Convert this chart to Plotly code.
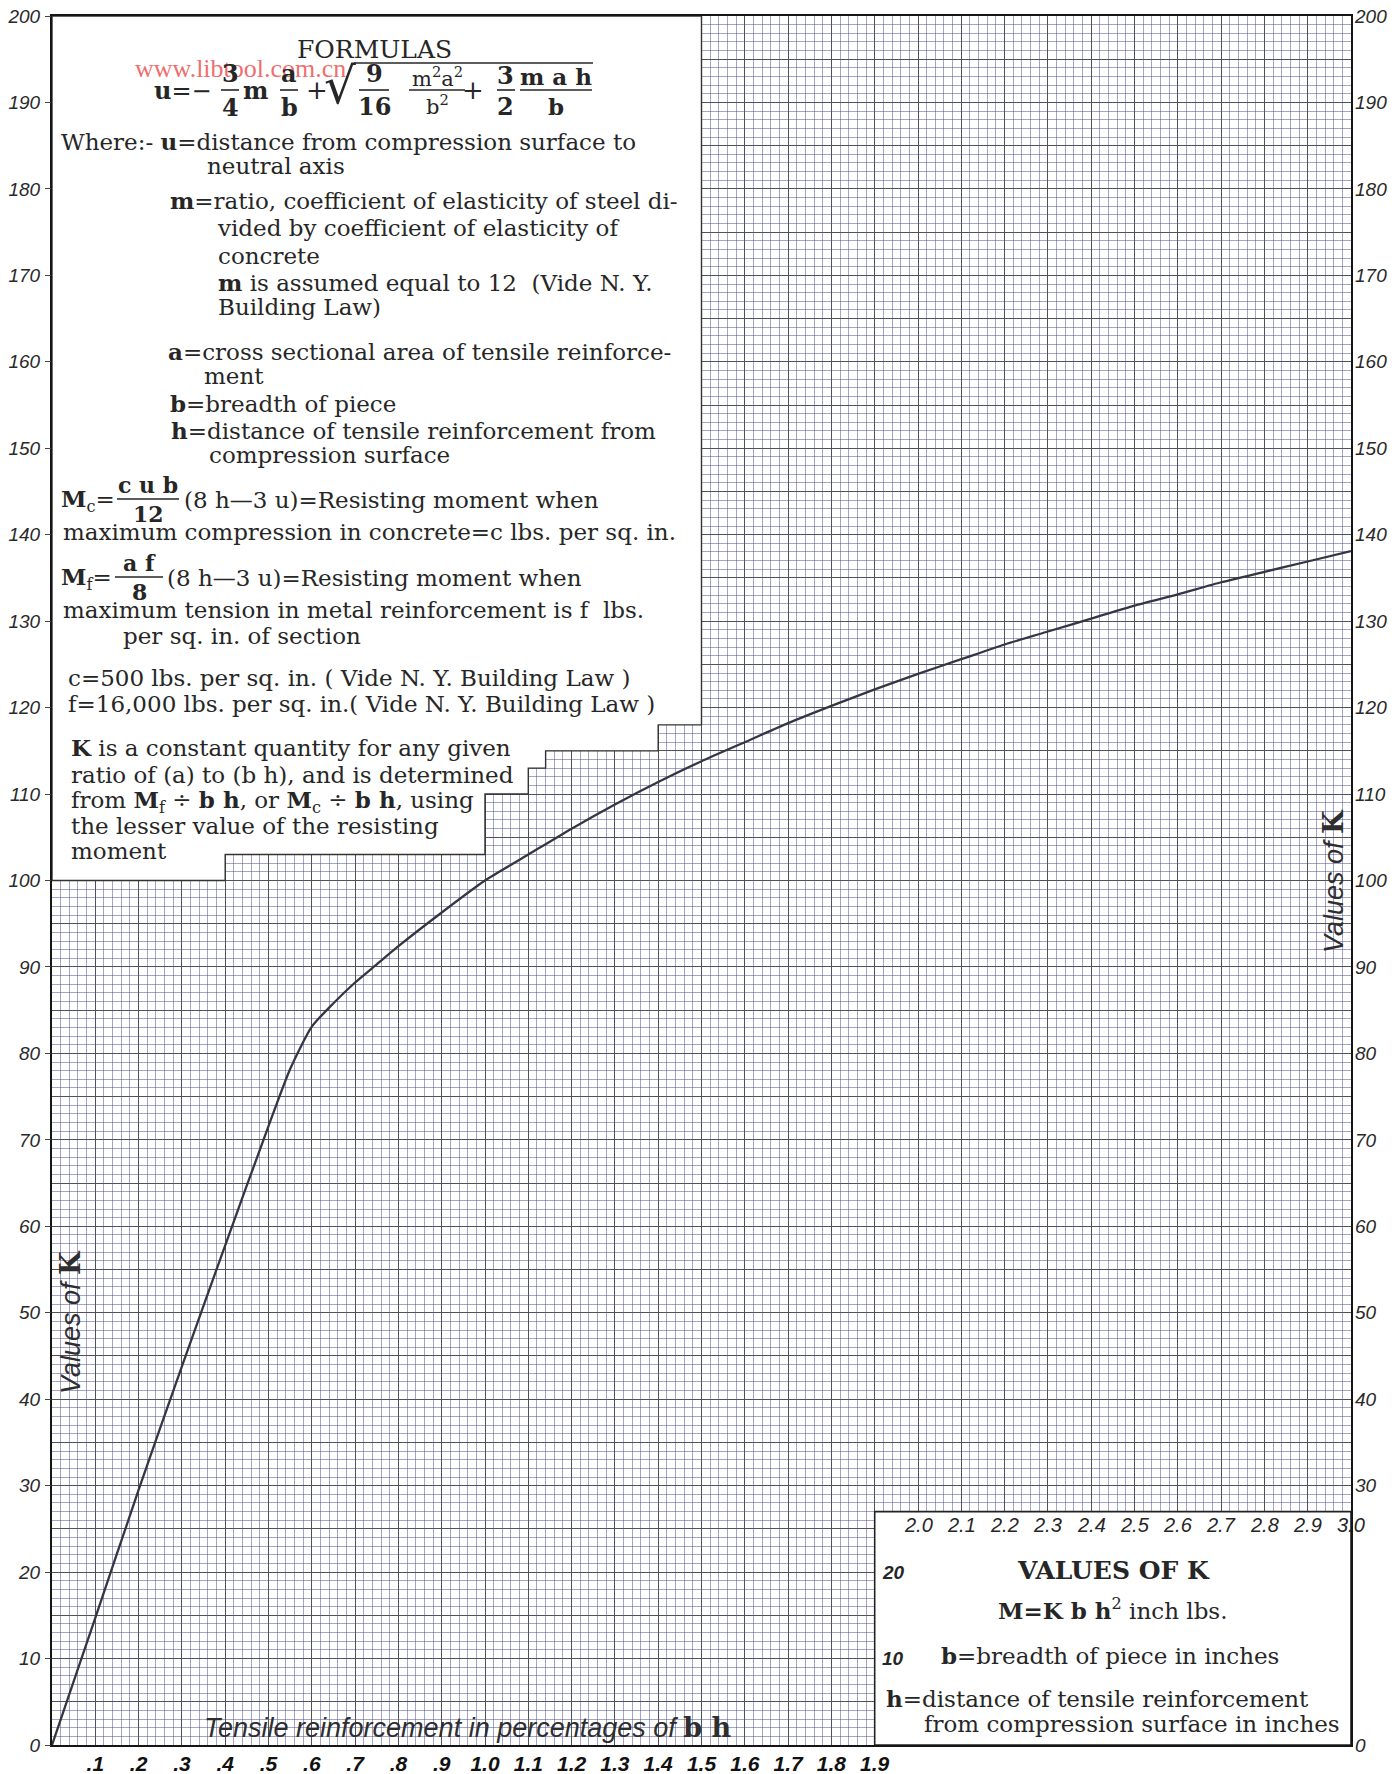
import plotly.graph_objects as go

# ---- data -------------------------------------------------------------
# Tensile reinforcement in percentages of b h, and the value of K
reinforcement_pct = [0.0, 0.1, 0.2, 0.3, 0.4, 0.5, 0.55, 0.6, 0.65, 0.7, 0.75, 0.8, 0.9,
                     1.0, 1.1, 1.2, 1.3, 1.4, 1.5, 1.6, 1.7, 1.8, 1.9,
                     2.0, 2.1, 2.2, 2.3, 2.4, 2.5, 2.6, 2.7, 2.8, 2.9, 3.0]
k_values = [0.0, 14.7, 29.5, 43.8, 57.8, 71.6, 78.2, 83.1, 85.8, 88.2, 90.3, 92.4, 96.3,
            100.0, 103.0, 106.0, 108.8, 111.4, 113.8, 116.0, 118.2, 120.2, 122.1,
            123.9, 125.6, 127.3, 128.8, 130.3, 131.8, 133.1, 134.5, 135.7, 136.9, 138.1]

# tick labels
left_k_ticks = list(range(0, 201, 10))
left_k_text = [str(v) for v in left_k_ticks]
right_k_ticks = [0] + list(range(30, 201, 10))
right_k_text = [str(v) for v in right_k_ticks]
box_k_ticks = [10, 20]
box_k_text = ["10", "20"]
bottom_x_ticks = [0.1, 0.2, 0.3, 0.4, 0.5, 0.6, 0.7, 0.8, 0.9, 1.0,
                  1.1, 1.2, 1.3, 1.4, 1.5, 1.6, 1.7, 1.8, 1.9]
bottom_x_text = [".1", ".2", ".3", ".4", ".5", ".6", ".7", ".8", ".9", "1.0",
                 "1.1", "1.2", "1.3", "1.4", "1.5", "1.6", "1.7", "1.8", "1.9"]
box_x_ticks = [2.0, 2.1, 2.2, 2.3, 2.4, 2.5, 2.6, 2.7, 2.8, 2.9, 3.0]
box_x_text = ["2.0", "2.1", "2.2", "2.3", "2.4", "2.5", "2.6", "2.7", "2.8", "2.9", "3.0"]

# ---- page geometry / styles ------------------------------------------
FIG_W, FIG_H = 1397, 1774
L, T, W, H = 52, 16, 1299, 1729
SERIF = "DejaVu Serif"
SANS = "Liberation Sans"
INK = "#262626"
MAJOR = "#51515b"
MINOR = "rgba(90,90,155,0.55)"
BODY = 23

annotations = []
shapes = []


def pos(px, py):
    """pixel position on the page -> paper coordinates of the plot area"""
    return (px - L) / W, (T + H - py) / H


def note(text, px, py, size=BODY, anchor="left", family=SERIF, color=INK, **kw):
    x, y = pos(px, py)
    annotations.append(dict(text=text, x=x, y=y, xref="paper", yref="paper",
                            xanchor=anchor, yanchor="middle", showarrow=False,
                            font=dict(family=family, size=size, color=color), **kw))


def hline(px0, px1, py, width=1.6):
    x0, y0 = pos(px0, py)
    x1, _ = pos(px1, py)
    shapes.append(dict(type="line", xref="paper", yref="paper", x0=x0, x1=x1, y0=y0, y1=y0,
                       line=dict(color=INK, width=width), layer="above"))


def frac(num, den, cx, ybar, half, size=22, up=16, down=16):
    note(num, cx, ybar - up, size=size, anchor="center")
    note(den, cx, ybar + down, size=size, anchor="center")
    hline(cx - half, cx + half, ybar)


# ---- white panels cut out of the ruled paper ---------------------------
step_x = [0.0, 1.5, 1.5, 1.4, 1.4, 1.14, 1.14, 1.1, 1.1, 1.0, 1.0, 0.4, 0.4, 0.0]
step_k = [200, 200, 118, 118, 115, 115, 113, 113, 110, 110, 103, 103, 100, 100]
path = "M " + " L ".join(f"{x},{k}" for x, k in zip(step_x, step_k)) + " Z"
shapes.append(dict(type="path", xref="x", yref="y", path=path, fillcolor="white",
                   line=dict(color="#333333", width=1.4), layer="above"))
shapes.append(dict(type="rect", xref="x", yref="y", x0=1.9, x1=3.0, y0=0, y1=27,
                   fillcolor="white", line=dict(color="#222222", width=1.6), layer="above"))

# ---- formulas panel ---------------------------------------------------
note("FORMULAS", 374, 50, size=25, anchor="center")
note("www.libtool.com.cn", 133, 68, size=26, family="Liberation Serif",
     color="rgba(236,70,70,0.80)")

# u = -3/4 m a/b + sqrt(9/16 m²a²/b² + 3/2 m a h / b)
note("<b>u</b>=−", 152, 90, size=24)
frac("<b>3</b>", "<b>4</b>", 230, 90, 9, size=24, up=17, down=17)
note("<b>m</b>", 255, 90, size=24, anchor="center")
frac("<b>a</b>", "<b>b</b>", 289, 90, 9, size=24, up=17, down=17)
note("+", 317, 90, size=26, anchor="center")
note("√", 340, 86, size=50, anchor="center")
frac("<b>9</b>", "<b>16</b>", 374, 90, 15, size=24, up=17, down=16)
frac("m<sup>2</sup>a<sup>2</sup>", "b<sup>2</sup>", 437, 90, 28, size=21, up=13, down=15)
note("+", 473, 90, size=26, anchor="center")
frac("<b>3</b>", "<b>2</b>", 506, 90, 9, size=24, up=15, down=16)
frac("<b>m a h</b>", "<b>b</b>", 556, 90, 36, size=23, up=13, down=16)
hline(354, 593, 63, width=1.7)

body = [
    ("Where:- <b>u</b>=distance from compression surface to", 59, 141),
    ("neutral axis", 205, 166),
    ("<b>m</b>=ratio, coefficient of elasticity of steel di-", 168, 200),
    ("vided by coefficient of elasticity of", 215, 228),
    ("concrete", 216, 256),
    ("<b>m</b> is assumed equal to 12  (Vide N. Y.", 216, 282),
    ("Building Law)", 216, 307),
    ("<b>a</b>=cross sectional area of tensile reinforce-", 166, 351),
    ("ment", 202, 376),
    ("<b>b</b>=breadth of piece", 168, 403),
    ("<b>h</b>=distance of tensile reinforcement from", 169, 430),
    ("compression surface", 207, 455),
    ("maximum compression in concrete=c lbs. per sq. in.", 61, 532),
    ("maximum tension in metal reinforcement is f  lbs.", 61, 610),
    ("per sq. in. of section", 121, 636),
    ("c=500 lbs. per sq. in. ( Vide N. Y. Building Law )", 66, 678),
    ("f=16,000 lbs. per sq. in.( Vide N. Y. Building Law )", 66, 704),
    ("<b>K</b> is a constant quantity for any given", 69, 748),
    ("ratio of (a) to (b h), and is determined", 69, 775),
    ("from <b>M</b><sub>f</sub> ÷ <b>b h</b>, or <b>M</b><sub>c</sub> ÷ <b>b h</b>, using", 69, 801),
    ("the lesser value of the resisting", 69, 826),
    ("moment", 69, 851),
]
for text, px, py in body:
    note(text, px, py)

# M_c = c u b / 12 (8 h - 3 u)
note("<b>M</b><sub>c</sub>=", 59, 500)
frac("<b>c u b</b>", "<b>12</b>", 148, 499, 31, size=22, up=14, down=15)
note("(8 h—3 u)=Resisting moment when", 182, 500)
# M_f = a f / 8 (8 h - 3 u)
note("<b>M</b><sub>f</sub>=", 59, 578)
frac("<b>a f</b>", "<b>8</b>", 139, 577, 24, size=22, up=14, down=15)
note("(8 h—3 u)=Resisting moment when", 165, 578)

# ---- values-of-K panel (bottom right) ----------------------------------
note("<b>VALUES OF K</b>", 1113, 1570, size=25, anchor="center")
note("<b>M=K b h</b><sup>2</sup> inch lbs.", 1112, 1609, size=23, anchor="center")
note("<b>b</b>=breadth of piece in inches", 1110, 1655, size=23, anchor="center")
note("<b>h</b>=distance of tensile reinforcement", 884, 1698, size=23)
note("from compression surface in inches", 922, 1724, size=23)

for xv, lab in zip(box_x_ticks, box_x_text):
    annotations.append(dict(text=lab, x=xv, y=pos(0, 1525)[1], xref="x", yref="paper",
                            xanchor="center", yanchor="middle", showarrow=False,
                            font=dict(family=SANS, size=20, color="#262626", style="italic")))
for kv, lab in zip(box_k_ticks, box_k_text):
    annotations.append(dict(text=lab, x=1.912, y=kv, xref="x", yref="y",
                            xanchor="left", yanchor="middle", showarrow=False,
                            font=dict(family=SANS, size=19, color="#262626", style="italic",
                                      weight="bold")))

# ---- axis titles drawn on the paper ------------------------------------
K_SERIF = "<span style='font-family:DejaVu Serif'><b>K</b></span>"
note("<i>Values of</i> " + K_SERIF, 70, 1322, size=27, anchor="center",
     family=SANS, color="#2e2e2e", textangle=-90)
note("<i>Values of</i> " + K_SERIF, 1333, 881, size=27, anchor="center",
     family=SANS, color="#2e2e2e", textangle=-90)
note("<i>Tensile reinforcement in percentages of</i> "
     "<span style='font-family:DejaVu Serif'><b>b h</b></span>",
     468, 1727, size=27, anchor="center", family=SANS, color="#2e2e2e")

# ---- figure -----------------------------------------------------------
fig = go.Figure()
fig.add_trace(go.Scatter(x=reinforcement_pct, y=k_values, mode="lines",
                         line=dict(color="#363642", width=2.3, shape="spline", smoothing=0.6),
                         hoverinfo="skip"))
# carriers for the labelling axes
fig.add_trace(go.Scatter(x=[], y=[], xaxis="x2", yaxis="y", hoverinfo="skip"))
fig.add_trace(go.Scatter(x=[], y=[], xaxis="x", yaxis="y2", hoverinfo="skip"))
fig.add_trace(go.Scatter(x=[], y=[], xaxis="x", yaxis="y3", hoverinfo="skip"))

tick_font = dict(family=SANS, size=19, color="#2a2a2a", style="italic")

fig.update_layout(
    width=FIG_W, height=FIG_H, autosize=False,
    margin=dict(l=L, r=FIG_W - L - W, t=T, b=FIG_H - T - H, pad=0, autoexpand=False),
    paper_bgcolor="white", plot_bgcolor="white", showlegend=False,
    xaxis=dict(range=[0, 3], tick0=0, dtick=0.1, showgrid=True, gridcolor=MAJOR, gridwidth=1.2,
               minor=dict(tick0=0, dtick=0.02, showgrid=True, gridcolor=MINOR, gridwidth=1),
               showticklabels=False, ticks="", zeroline=False, automargin=False,
               showline=True, mirror=True, linecolor="#151515", linewidth=2.2),
    yaxis=dict(range=[0, 200], tick0=0, dtick=5, showgrid=True, gridcolor=MAJOR, gridwidth=1.2,
               minor=dict(tick0=0, dtick=1, showgrid=True, gridcolor=MINOR, gridwidth=1),
               showticklabels=False, ticks="", zeroline=False, automargin=False,
               showline=True, mirror=True, linecolor="#151515", linewidth=2.2),
    xaxis2=dict(overlaying="x", anchor="y", side="bottom", range=[0, 3],
                tickmode="array", tickvals=bottom_x_ticks, ticktext=bottom_x_text,
                showgrid=False, zeroline=False, showline=False, ticks="", automargin=False,
                ticklabelstandoff=4,
                tickfont=dict(family="Liberation Sans Narrow, Liberation Sans", size=21,
                              color="#111", style="italic", weight="bold")),
    yaxis2=dict(overlaying="y", anchor="x", side="left", range=[0, 200],
                tickmode="array", tickvals=left_k_ticks, ticktext=left_k_text,
                showgrid=False, zeroline=False, showline=False, automargin=False,
                ticks="outside", ticklen=6, tickwidth=1.4, tickcolor="#444",
                ticklabelstandoff=1, tickfont=tick_font),
    yaxis3=dict(overlaying="y", anchor="x", side="right", range=[0, 200],
                tickmode="array", tickvals=right_k_ticks, ticktext=right_k_text,
                showgrid=False, zeroline=False, showline=False, ticks="", automargin=False,
                ticklabelstandoff=3, tickfont=tick_font),
    shapes=shapes,
    annotations=annotations,
)

fig.write_html("out.html")
